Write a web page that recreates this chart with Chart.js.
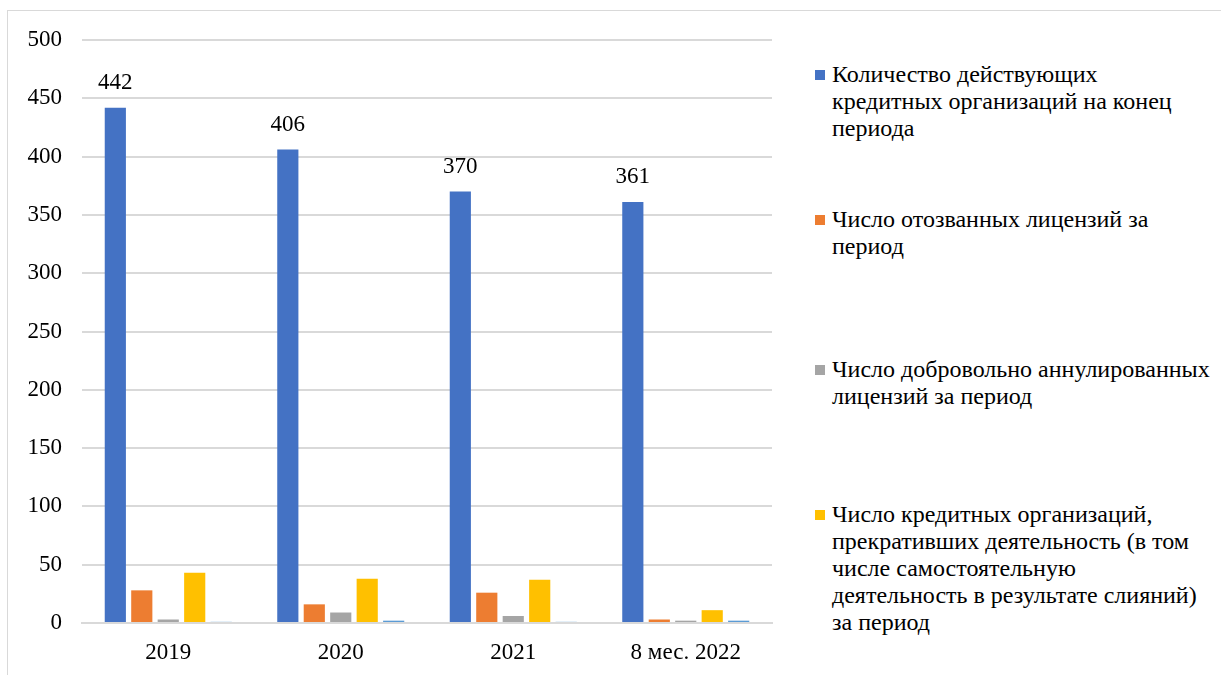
<!DOCTYPE html>
<html>
<head>
<meta charset="utf-8">
<script src="https://cdn.jsdelivr.net/npm/chart.js@4"></script>
<style>
  body { margin: 0; background: #fff; }
  #frame { position: absolute; left: 7px; top: 10px; width: 1230px; height: 700px; border: 1px solid #d9d9d9; }
  #wrap { position: absolute; left: 0; top: 0; width: 790px; height: 675px; }
  .leg { position: absolute; left: 832px; font-family: "Liberation Serif", serif; font-size: 24px; line-height: 27px; color: #000; white-space: nowrap; }
  .leg .box { position: absolute; left: -17px; top: 9px; width: 10px; height: 10px; }
</style>
</head>
<body>
<div id="frame"></div>
<div id="wrap"><canvas id="chart"></canvas></div>
<div id="legend"></div>
<script>
const periods = ['2019', '2020', '2021', '8 мес. 2022'];
const activeOrgs = [442, 406, 370, 361];
const revokedLicenses = [28, 16, 26, 3];
const annulledLicenses = [3, 9, 6, 2];
const ceasedOrgs = [43, 38, 37, 11];
const otherSeries = [1, 2, 1, 2];
const yTicks = [0, 50, 100, 150, 200, 250, 300, 350, 400, 450, 500];

const seriesNames = [
    ['Количество действующих', 'кредитных организаций на конец', 'периода'],
    ['Число отозванных лицензий за', 'период'],
    ['Число добровольно аннулированных', 'лицензий за период'],
    ['Число кредитных организаций,', 'прекративших деятельность (в том', 'числе самостоятельную', 'деятельность в результате слияний)', 'за период']
];
const colors = ['#4472C4', '#ED7D31', '#A5A5A5', '#FFC000', '#5B9BD5'];
const legendTops = [61, 206, 356, 501];

// легенда справа
const legendEl = document.getElementById('legend');
seriesNames.forEach((lines, i) => {
    const d = document.createElement('div');
    d.className = 'leg';
    d.style.top = legendTops[i] + 'px';
    d.innerHTML = '<span class="box" style="background:' + colors[i] + '"></span>' + lines.join('<br>');
    legendEl.appendChild(d);
});

const valueLabels = {
    id: 'valueLabels',
    afterDatasetsDraw(chart) {
        const ctx = chart.ctx;
        const meta = chart.getDatasetMeta(0);
        ctx.save();
        ctx.font = "23px 'Liberation Serif'";
        ctx.fillStyle = '#000';
        ctx.textAlign = 'center';
        ctx.textBaseline = 'alphabetic';
        meta.data.forEach((bar, i) => {
            ctx.fillText(String(activeOrgs[i]), bar.x, bar.y - 19);
        });
        ctx.restore();
    }
};

const ctx = document.getElementById('chart').getContext('2d');
new Chart(ctx, {
    type: 'bar',
    data: {
        labels: periods,
        datasets: [
            { label: seriesNames[0].join(' '), data: activeOrgs, backgroundColor: colors[0] },
            { label: seriesNames[1].join(' '), data: revokedLicenses, backgroundColor: colors[1] },
            { label: seriesNames[2].join(' '), data: annulledLicenses, backgroundColor: colors[2] },
            { label: seriesNames[3].join(' '), data: ceasedOrgs, backgroundColor: colors[3] },
            { label: '', data: otherSeries, backgroundColor: colors[4] }
        ]
    },
    options: {
        responsive: true,
        maintainAspectRatio: false,
        animation: false,
        categoryPercentage: 0.767,
        barPercentage: 0.8,
        layout: { padding: { top: 40, right: 18, left: 0, bottom: 0 } },
        scales: {
            x: {
                grid: { display: false },
                border: { color: '#d9d9d9', width: 2 },
                ticks: { color: '#000', font: { family: 'Liberation Serif', size: 23 }, padding: 8 },
                afterFit(scale) { scale.height = 52; }
            },
            y: {
                min: 0,
                max: 500,
                afterBuildTicks(scale) { scale.ticks = yTicks.map(v => ({ value: v })); },
                grid: { color: '#d9d9d9', lineWidth: 2, drawTicks: false },
                border: { display: false },
                ticks: { color: '#000', font: { family: 'Liberation Serif', size: 23 }, padding: 20 },
                afterFit(scale) { scale.width = 82; }
            }
        },
        plugins: {
            legend: { display: false },
            tooltip: { enabled: false }
        }
    },
    plugins: [valueLabels]
});
</script>
</body>
</html>
